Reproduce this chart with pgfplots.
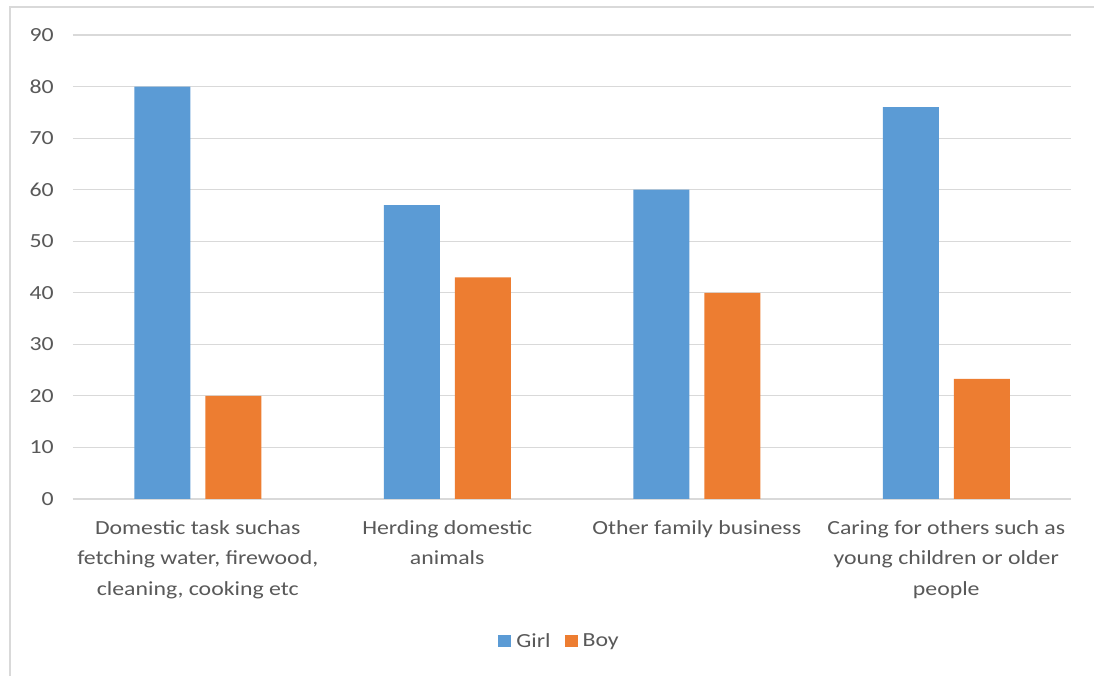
\documentclass[border=0pt]{standalone}
\usepackage{fontspec}
\setmainfont{Carlito}[FakeStretch=1.19]
\usepackage{pgfplots}
\pgfplotsset{compat=1.18}
\definecolor{girl}{HTML}{5B9BD5}
\definecolor{boy}{HTML}{ED7D31}
\definecolor{txt}{HTML}{595959}
\definecolor{grd}{HTML}{D9D9D9}
\begin{document}
\begin{tikzpicture}
\useasboundingbox (-73pt,-177pt) rectangle (1021pt,499pt);
\fill[white] (-73pt,-177pt) rectangle (1021pt,499pt);
\draw[grd, line width=1.5pt] (-63pt,-180pt) -- (-63pt,492pt) -- (1025pt,492pt);
\begin{axis}[
  scale only axis,
  width=998pt, height=464pt,
  xmin=-0.5, xmax=3.5,
  ymin=0, ymax=90,
  ytick={0,10,...,90},
  xtick={0,1,2,3},
  xticklabels={{Domestic task suchas\\fetching water, firewood,\\cleaning, cooking etc},
               {Herding domestic\\animals},
               {Other family business},
               {Caring for others such as\\young children or older\\people}},
  ybar=15pt,
  bar width=56pt,
  axis x line*=bottom,
  axis y line*=left,
  y axis line style={draw=none},
  x axis line style={grd, line width=1.2pt},
  major tick length=0pt,
  ymajorgrids,
  grid style={grd, line width=1.2pt},
  tick label style={font=\fontsize{20}{30.5}\selectfont, text=txt},
  /pgf/number format/assume math mode=true,
  yticklabel style={anchor=east, inner sep=0pt, xshift=-19pt},
  xticklabel style={align=center, anchor=north, inner sep=0pt, yshift=-21pt},
  legend style={draw=none, fill=none, at={(0.4875,-142pt)}, anchor=center,
    font=\fontsize{20}{24}\selectfont, text=txt,
    /tikz/every odd column/.append style={column sep=3pt},
    /tikz/every even column/.append style={column sep=12pt}},
  legend columns=2,
  legend image code/.code={\fill[#1] (0pt,-6pt) rectangle (13pt,6pt);},
]
\addplot[fill=girl, draw=none] coordinates {(0,80) (1,57) (2,60) (3,76)};
\addplot[fill=boy, draw=none] coordinates {(0,20) (1,43) (2,40) (3,23.3)};
\legend{Girl,Boy}
\end{axis}
\end{tikzpicture}
\end{document}
